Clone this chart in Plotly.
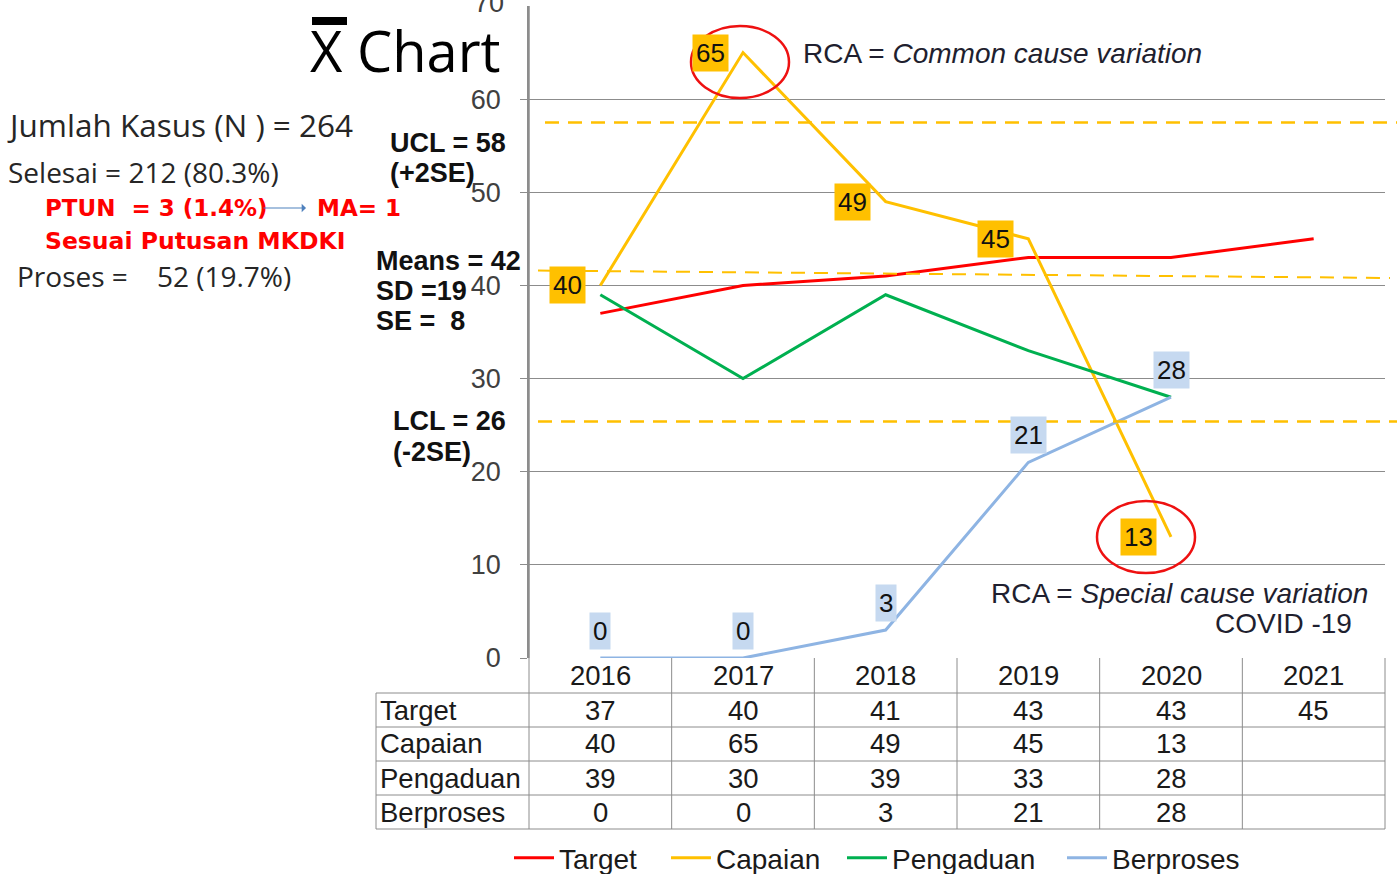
import plotly.graph_objects as go

# ---------------- data ----------------
years = ["2016", "2017", "2018", "2019", "2020", "2021"]
target = [37, 40, 41, 43, 43, 45]
capaian = [40, 65, 49, 45, 13, None]
pengaduan = [39, 30, 39, 33, 28, None]
berproses = [0, 0, 3, 21, 28, None]
series_names = ["Target", "Capaian", "Pengaduan", "Berproses"]
series_values = [target, capaian, pengaduan, berproses]
series_colors = ["#FF0000", "#FFC000", "#00B050", "#8EB4E3"]
ucl_level = 57.5
mean_level = (41.6, 40.8)
lcl_level = 25.4
y_ticks = [0, 10, 20, 30, 40, 50, 60]

# ---------------- geometry helpers (pixel -> paper) ----------------
W, H = 1397, 874
L, R, T, B = 529, 1385, 6, 658
PW, PH = R - L, B - T


def X(px):
    return (px - L) / PW


def Y(py):
    return (B - py) / PH


xpos = list(range(len(years)))
legend_ids = ["legend", "legend2", "legend3", "legend4"]
legend_left_px = [509, 666, 842, 1062]

fig = go.Figure()
for name, vals, col, lg in zip(series_names, series_values, series_colors, legend_ids):
    fig.add_trace(go.Scatter(x=xpos, y=vals, name=name, mode="lines", legend=lg,
                             line=dict(color=col, width=3), connectgaps=False))

AF = "Liberation Sans, Arial, sans-serif"
CF = "Open Sans, Lato, sans-serif"
DB = "DejaVu Sans, sans-serif"
TXT = "#262626"
ann = []
shapes = []

# control lines
dash = "14px,9px"
shapes.append(dict(type="line", xref="paper", yref="y", x0=X(545), x1=X(1397), y0=ucl_level, y1=ucl_level,
                   line=dict(color="#FFC000", width=2.5, dash=dash)))
shapes.append(dict(type="line", xref="paper", yref="y", x0=X(538), x1=X(1390), y0=mean_level[0], y1=mean_level[1],
                   line=dict(color="#FFC000", width=2, dash=dash)))
shapes.append(dict(type="line", xref="paper", yref="y", x0=X(538), x1=X(1397), y0=lcl_level, y1=lcl_level,
                   line=dict(color="#FFC000", width=2.5, dash=dash)))

# data labels
for i, v in enumerate(capaian):
    if v is not None:
        ann.append(dict(x=xpos[i], y=v, xref="x", yref="y", text=str(v), showarrow=False, xshift=-33,
                        xanchor="center", yanchor="middle",
                        bgcolor="#FFC000", borderpad=3, font=dict(family=AF, size=26, color="#111")))
for i, v in enumerate(berproses):
    if v is not None:
        ann.append(dict(x=xpos[i], y=v, xref="x", yref="y", text=str(v), showarrow=False, yshift=27,
                        xanchor="center", yanchor="middle",
                        bgcolor="#C6D9F0", borderpad=3, font=dict(family=AF, size=26, color="#111")))

# red ellipses
for (cx, cy) in [(740, 62), (1146, 537)]:
    shapes.append(dict(type="circle", xref="paper", yref="paper", x0=X(cx - 49), x1=X(cx + 49),
                       y0=Y(cy + 36), y1=Y(cy - 36), line=dict(color="#EE1111", width=2.5)))

# table
grid = "#8C8C8C"
for i in range(7):
    shapes.append(dict(type="line", xref="paper", yref="paper", x0=i / 6, x1=i / 6, y0=Y(658), y1=Y(829),
                       line=dict(color=grid, width=1)))
shapes.append(dict(type="line", xref="paper", yref="paper", x0=X(376), x1=X(376), y0=Y(693), y1=Y(829),
                   line=dict(color=grid, width=1)))
for py in [693, 727, 761, 795, 829]:
    shapes.append(dict(type="line", xref="paper", yref="paper", x0=X(376), x1=1, y0=Y(py), y1=Y(py),
                       line=dict(color=grid, width=1)))


def atext(x, y, s, size, color=TXT, family=AF, xanchor="center", bold=False):
    if bold:
        s = "<b>" + s + "</b>"
    ann.append(dict(x=x, y=y, xref="paper", yref="paper", text=s, showarrow=False,
                    xanchor=xanchor, yanchor="middle", font=dict(family=family, size=size, color=color)))


for i, yr in enumerate(years):
    atext((i + 0.5) / 6, Y(675), yr, 27.5, color="#1a1a1a")
row_centers = [710, 744, 778, 812]
for name, vals, rc in zip(series_names, series_values, row_centers):
    atext(X(378), Y(rc), name, 27.5, color="#1a1a1a", xanchor="left")
    for i, v in enumerate(vals):
        if v is not None:
            atext((i + 0.5) / 6, Y(rc), str(v), 27.5, color="#1a1a1a")

# y-axis continuation through table
shapes.append(dict(type="line", xref="paper", yref="paper", x0=0, x1=0, y0=Y(658), y1=1,
                   line=dict(color=grid, width=1.5)))

# "70" top label (partially clipped like the reference)
atext(X(506), Y(3), "70", 27, color="#404040", xanchor="right")

# title with x-bar
atext(X(308), Y(50), "X Chart", 56, color="#000", family=CF, xanchor="left")
shapes.append(dict(type="rect", xref="paper", yref="paper", x0=X(312), x1=X(347), y0=Y(25), y1=Y(17),
                   fillcolor="#000", line=dict(width=0)))


def txt(x, y, s, size, color=TXT, family=CF, bold=False):
    atext(X(x), Y(y), s, size, color=color, family=family, xanchor="left", bold=bold)


# left text block
txt(5, 125, "Jumlah Kasus (N ) = 264", 31.5)
txt(6, 172, "Selesai = 212 (80.3%)", 28)
txt(43, 208, "PTUN  = 3 (1.4%)", 23, color="#FF0000", family=DB, bold=True)
txt(315, 208, "MA= 1", 23, color="#FF0000", family=DB, bold=True)
txt(43, 241, "Sesuai Putusan MKDKI", 23.5, color="#FF0000", family=DB, bold=True)
txt(15, 276, "Proses =    52 (19.7%)", 28)
ann.append(dict(x=X(306), y=Y(208), ax=-44, ay=0, xref="paper", yref="paper", text="", showarrow=True,
                arrowhead=1, arrowsize=1.2, arrowwidth=1.2, arrowcolor="#4F81BD"))

for (x, y, s) in [(388, 143, "UCL = 58"), (388, 173, "(+2SE)"), (374, 261, "Means = 42"),
                  (374, 291, "SD =19"), (374, 321, "SE =  8"), (391, 421, "LCL = 26"), (391, 452, "(-2SE)")]:
    txt(x, y, s, 27, color="#111", family=AF, bold=True)

# RCA notes
txt(801, 53, "RCA = <i>Common cause variation</i>", 28, color="#1f1f2f", family=AF)
txt(989, 593, "RCA = <i>Special cause variation</i>", 28, color="#1f1f2f", family=AF)
atext(X(1354), Y(623), "COVID -19", 28, color="#1f1f2f", xanchor="right")

legend_layout = {}
for lg, lx in zip(legend_ids, legend_left_px):
    legend_layout[lg] = dict(orientation="h", x=X(lx), xanchor="left", y=Y(858), yanchor="middle",
                             font=dict(family=AF, size=28, color="#1a1a1a"), itemwidth=40,
                             bgcolor="rgba(0,0,0,0)")

fig.update_layout(
    width=W, height=H, margin=dict(l=L, r=W - R, t=T, b=H - B, autoexpand=False),
    paper_bgcolor="white", plot_bgcolor="white",
    showlegend=True,
    xaxis=dict(range=[-0.5, 5.5], showticklabels=False, showgrid=False, zeroline=False,
               showline=False, ticks=""),
    yaxis=dict(range=[0, 70], tickvals=y_ticks, showgrid=True, gridcolor="#8C8C8C", gridwidth=1,
               zeroline=False, showline=True, linecolor="#8C8C8C", linewidth=1.5, ticks="outside",
               ticklen=7, tickcolor="#8C8C8C", ticklabelstandoff=14,
               tickfont=dict(family=AF, size=27, color="#404040")),
    annotations=ann, shapes=shapes,
    **legend_layout,
)

fig.write_html("out.html", post_script="document.body.style.margin='0';",
               config={"displayModeBar": False})
